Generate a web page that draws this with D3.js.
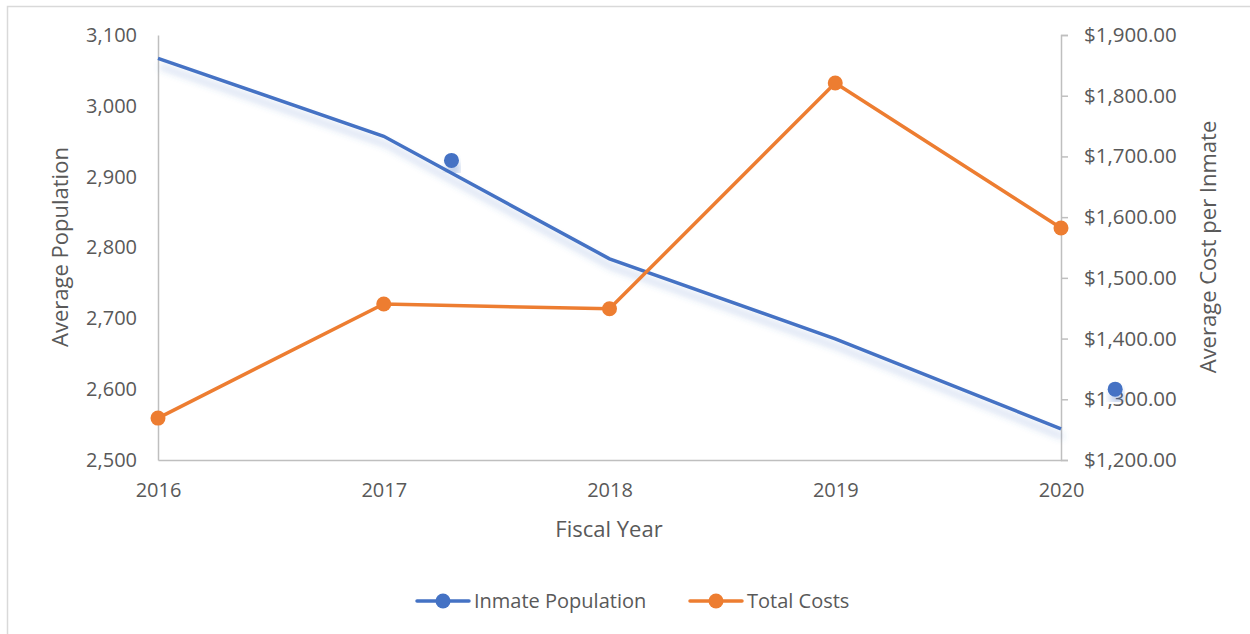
<!DOCTYPE html>
<html>
<head>
<meta charset="utf-8">
<script src="https://cdn.jsdelivr.net/npm/d3@7"></script>
<style>
  body { margin: 0; background: #fff; }
  text { font-family: "Open Sans", sans-serif; fill: #595959; }
</style>
</head>
<body>
<script>
// data
const years = [2016, 2017, 2018, 2019, 2020];
const population = [3067, 2957, 2784, 2671, 2544];
const costs = [1269, 1457, 1449, 1821, 1582];
// two loose blue markers sitting off the line in the original
const strayYears = [2017.3, 2020.24];
const strayPop = [2923, 2600];
const leftTicks = [2500, 2600, 2700, 2800, 2900, 3000, 3100];
const rightTicks = [1200, 1300, 1400, 1500, 1600, 1700, 1800, 1900];

const W = 1250, H = 634;
const blue = "#4472c4", orange = "#ed7d31";

let svg = d3.select("body").append("svg").attr("width", W).attr("height", H);

// outer frame
svg.append("rect").attr("x", 7.5).attr("y", 6.5).attr("width", W).attr("height", H)
  .attr("fill", "none").attr("stroke", "#d9d9d9").attr("stroke-width", 1.5);

let defs = svg.append("defs");
let f = defs.append("filter").attr("id", "shade")
  .attr("x", "-10%").attr("y", "-10%").attr("width", "120%").attr("height", "140%");
f.append("feDropShadow").attr("dx", 2).attr("dy", 8).attr("stdDeviation", 3.5)
  .attr("flood-color", blue).attr("flood-opacity", 0.35);

let x = d3.scaleLinear().domain([2016, 2020]).range([158, 1061]);
let yL = d3.scaleLinear().domain([2500, 3100]).range([460, 35]);
let yR = d3.scaleLinear().domain([1200, 1900]).range([460, 35]);

// left axis (no ticks)
let axL = svg.append("g").attr("transform", "translate(158,0)")
  .call(d3.axisLeft(yL).tickValues(leftTicks).tickFormat(d3.format(",")).tickSize(0).tickPadding(21));
axL.select(".domain").attr("stroke", "#bfbfbf").attr("stroke-width", 1.5);
axL.selectAll("text").style("font-size", "20px");

// right axis
let axR = svg.append("g").attr("transform", "translate(1061,0)")
  .call(d3.axisRight(yR).tickValues(rightTicks).tickFormat(d => "$" + d3.format(",.2f")(d)).tickSizeInner(7).tickSizeOuter(7).tickPadding(16));
axR.select(".domain").attr("stroke", "#bfbfbf").attr("stroke-width", 1.5);
axR.selectAll(".tick line").attr("stroke", "#bfbfbf").attr("stroke-width", 1.5);
axR.selectAll("text").style("font-size", "20.5px");

// x axis
let axX = svg.append("g").attr("transform", "translate(0,460)")
  .call(d3.axisBottom(x).tickValues(years).tickFormat(d3.format("d")).tickSize(0).tickPadding(23));
axX.select(".domain").attr("stroke", "#bfbfbf").attr("stroke-width", 1.5);
axX.selectAll("text").style("font-size", "20px");

// axis titles
svg.append("text").attr("x", 609).attr("y", 537).attr("text-anchor", "middle")
  .style("font-size", "22px").text("Fiscal Year");
svg.append("text").attr("transform", "translate(68,247) rotate(-90)").attr("text-anchor", "middle")
  .style("font-size", "22px").text("Average Population");
svg.append("text").attr("transform", "translate(1216,247) rotate(-90)").attr("text-anchor", "middle")
  .style("font-size", "22px").text("Average Cost per Inmate");

// population line with shadow
let line = (ys) => d3.line().x((d, i) => x(years[i])).y(d => ys(d));
svg.append("path").datum(population).attr("d", line(yL))
  .attr("fill", "none").attr("stroke", blue).attr("stroke-width", 3.5)
  .attr("filter", "url(#shade)");

svg.selectAll(".stray").data(strayYears).enter().append("circle")
  .attr("cx", d => x(d)).attr("cy", (d, i) => yL(strayPop[i])).attr("r", 7.5)
  .attr("fill", blue).attr("filter", "url(#shade)");

// costs line with markers
svg.append("path").datum(costs).attr("d", line(yR))
  .attr("fill", "none").attr("stroke", orange).attr("stroke-width", 3.5);
svg.selectAll(".cost").data(costs).enter().append("circle")
  .attr("cx", (d, i) => x(years[i])).attr("cy", d => yR(d)).attr("r", 7.5).attr("fill", orange);

// legend
const legend = [["Inmate Population", blue, 417], ["Total Costs", orange, 690]];
legend.forEach(([name, col, lx]) => {
  let g = svg.append("g").attr("transform", `translate(${lx},601)`);
  g.append("line").attr("x1", 0).attr("x2", 52).attr("stroke", col).attr("stroke-width", 3.5).attr("stroke-linecap", "round");
  g.append("circle").attr("cx", 26).attr("r", 7.5).attr("fill", col);
  g.append("text").attr("x", 57).attr("y", 7).style("font-size", "20px").text(name);
});
</script>
</body>
</html>
